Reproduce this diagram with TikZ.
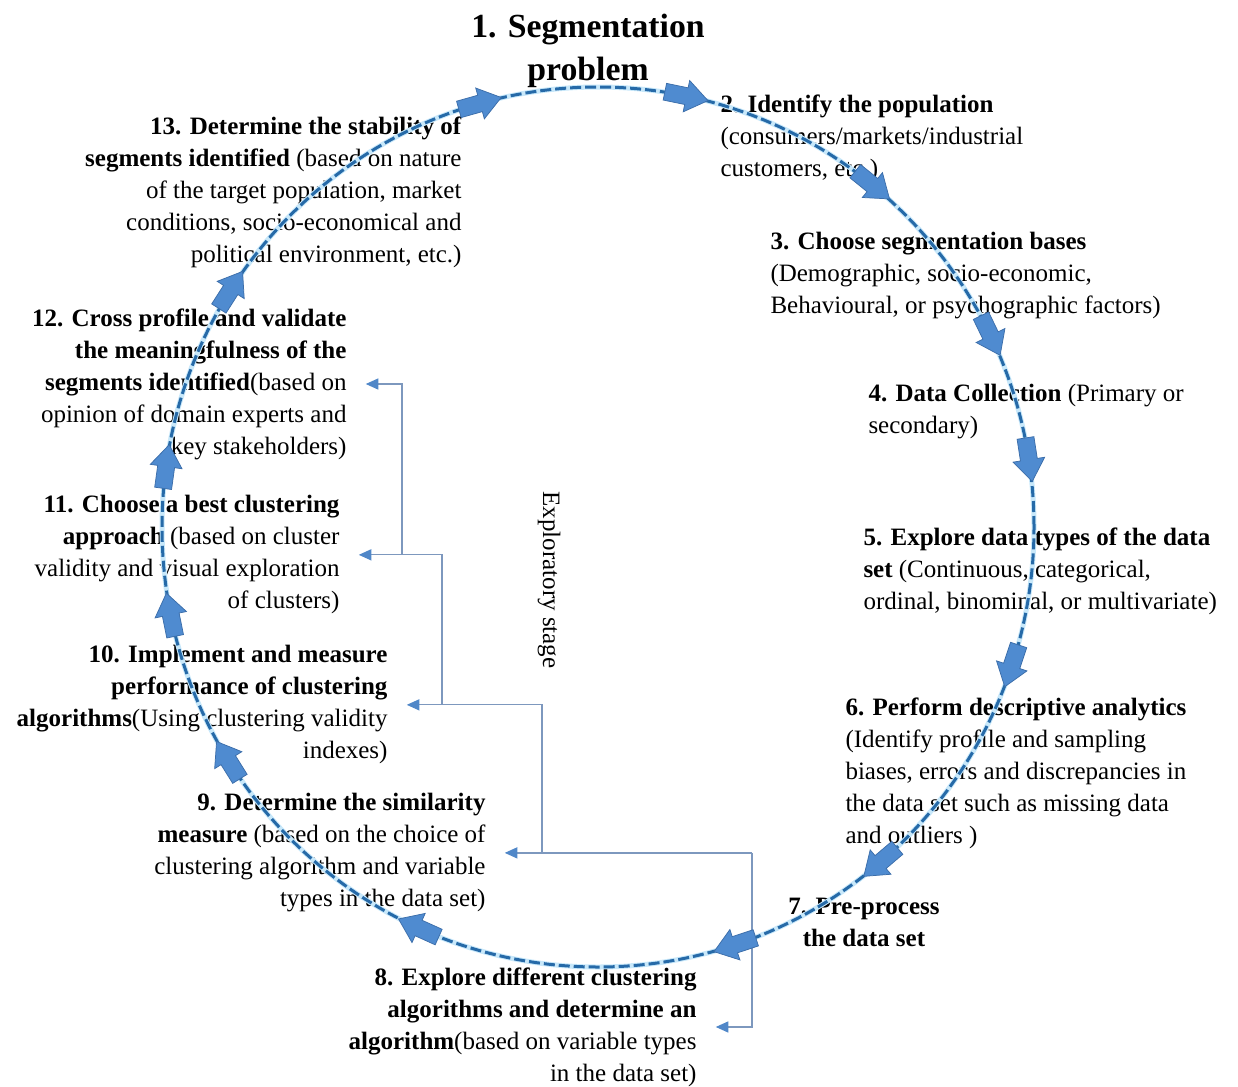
\documentclass[tikz,border=0pt]{standalone}
\usepackage{fontspec}
\setmainfont{Liberation Serif}
\usetikzlibrary{arrows.meta}
\definecolor{ringdash}{RGB}{38,106,168}
\definecolor{ringglow}{RGB}{200,232,250}
\definecolor{arrowfill}{RGB}{79,139,208}
\definecolor{arrowline}{RGB}{60,110,170}
\definecolor{fbline}{RGB}{125,152,190}
\definecolor{fbtip}{RGB}{80,135,200}
\begin{document}
\begin{tikzpicture}[
  x=0.4pt, y=0.4pt,
  font=\fontsize{10}{12.8}\selectfont,
  lefttxt/.style={anchor=north west, align=left, inner sep=0pt},
  righttxt/.style={anchor=north east, align=right, inner sep=0pt},
  halo/.style={draw=ringglow, line width=2pt},
  ring/.style={draw=ringdash, line width=1.2pt, dash pattern=on 4.4pt off 1.6pt},
  fb/.style={draw=fbline, line width=0.5pt, shorten >=7.5pt, -{Triangle[length=5pt, width=4.4pt, color=fbtip]}},
  blk/.pic={\draw[draw=arrowline, fill=arrowfill, line width=0.3pt] (-22,-8.5) -- (0,-8.5) -- (0,-16) -- (22,0) -- (0,16) -- (0,8.5) -- (-22,8.5) -- cycle;}]
\useasboundingbox (0,0) rectangle (1238,-1086);
\node[font=\fontsize{13.5}{17}\selectfont\bfseries, align=center, anchor=north, inner sep=0pt] (problem) at (588,-14) {1. Segmentation\\problem};
\node[lefttxt] (population) at (720,-94) {\textbf{2. Identify the population}\\(consumers/markets/industrial\\customers, etc.)};
\node[lefttxt] (bases) at (770,-232) {\textbf{3. Choose segmentation bases}\\(Demographic, socio-economic,\\Behavioural, or psychographic factors)};
\node[lefttxt] (collection) at (868,-384) {\textbf{4. Data Collection} (Primary or\\secondary)};
\node[lefttxt] (types) at (863,-527) {\textbf{5. Explore data types of the data}\\\textbf{set} (Continuous, categorical,\\ordinal, binominal, or multivariate)};
\node[lefttxt] (descriptive) at (845,-697) {\textbf{6. Perform descriptive analytics}\\(Identify profile and sampling\\biases, errors and discrepancies in\\the data set such as missing data\\and outliers )};
\node[anchor=north, align=center, inner sep=0pt] (preprocess) at (864,-898) {\textbf{7. Pre-process}\\\textbf{the data set}};
\node[righttxt] (algos) at (697,-967) {\textbf{8. Explore different clustering}\\\textbf{algorithms and determine an}\\\textbf{algorithm}(based on variable types\\in the data set)};
\node[righttxt] (similarity) at (486,-793) {\textbf{9. Determine the similarity}\\\textbf{measure} (based on the choice of\\clustering algorithm and variable\\types in the data set)};
\node[righttxt] (implement) at (388,-645) {\textbf{10. Implement and measure}\\\textbf{performance of clustering}\\\textbf{algorithms}(Using clustering validity\\indexes)};
\node[righttxt] (best) at (340,-495) {\textbf{11. Choose a best clustering}\\\textbf{approach} (based on cluster\\validity and visual exploration\\of clusters)};
\node[righttxt] (validate) at (347,-308) {\textbf{12. Cross profile and validate}\\\textbf{the meaningfulness of the}\\\textbf{segments identified}(based on\\opinion of domain experts and\\key stakeholders)};
\node[righttxt] (stability) at (462,-116) {\textbf{13. Determine the stability of}\\\textbf{segments identified} (based on nature\\of the target population, market\\conditions, socio-economical and\\political environment, etc.)};
\node[rotate=-90, inner sep=0pt] (stage) at (549,-580) {Exploratory stage};
\coordinate (x8) at (752,0);
\coordinate (x9) at (542,0);
\coordinate (x10) at (442,0);
\coordinate (x11) at (402,0);
\draw[fb] (x8 |- similarity.east) -- (similarity.east);
\draw[fb] (x8 |- similarity.east) |- (algos.east);
\draw[fb] (x9 |- similarity.east) |- (implement.east);
\draw[fb] (x10 |- implement.east) |- (best.east);
\draw[fb] (x11 |- best.east) |- (validate.east);
\coordinate (hub) at (598,-527);
\draw[halo] (hub) ellipse [x radius=436, y radius=440];
\draw[ring] (hub) ellipse [x radius=436, y radius=440];
\begin{scope}[shift={(hub)}]
\foreach \a in {105.7,78.3,51,25.8,8.8,-18.4,-49.6,-71.7,-114.3,-148,-168.5,172.1,147.4}
  \pic[rotate=\a-90] at (\a:436 and 440) {blk};
\end{scope}
\end{tikzpicture}
\end{document}
